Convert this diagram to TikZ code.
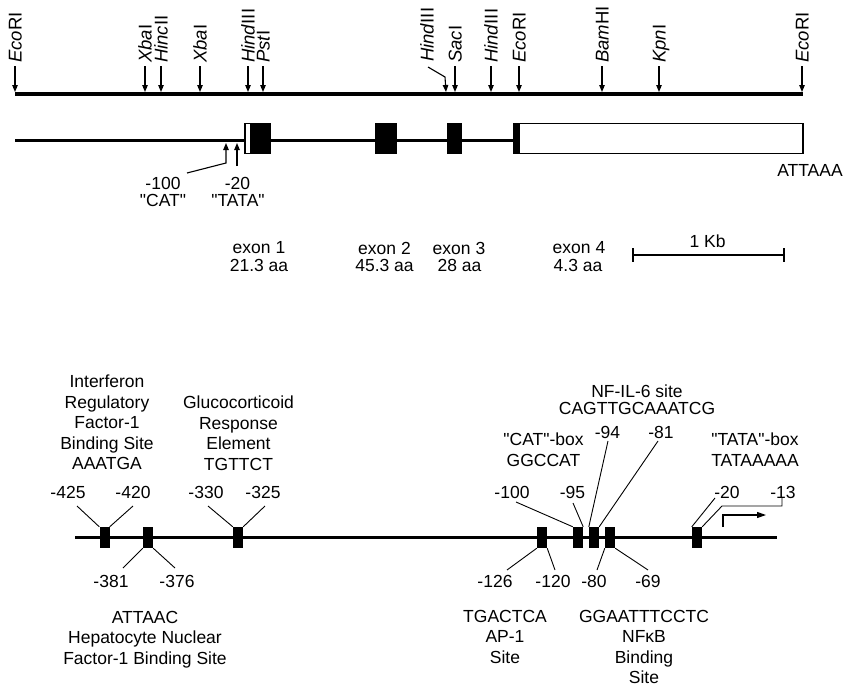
\documentclass[tikz,border=0pt]{standalone}
\usepackage{fontspec}
\setmainfont{Liberation Sans}[Ligatures=TeXOff]
\usetikzlibrary{arrows.meta}
\newcommand\fs{\fontsize{17.5}{20.4}\selectfont}
\newcommand\fsn{\fontsize{17.5}{17}\selectfont}
\newcommand\fsr{\fontsize{18.5}{20}\selectfont}
\begin{document}
\begin{tikzpicture}[x=1pt,y=-1pt,
  lbl/.style={font=\fs, inner sep=0pt},
  site/.style={font=\fsr, inner sep=0pt, rotate=90, anchor=west, text height=13pt, text depth=0pt},
  cut/.style={line width=1.1pt, -{Triangle[width=5.5pt,length=7pt]}},
  ld/.style={line width=0.9pt},
  pbox/.style={fill=black, draw=none, minimum width=10pt, minimum height=21pt, inner sep=0pt},
  blk/.style={align=center, font=\fs, inner sep=0pt, anchor=north},
  utr/.style={draw=black, fill=white, line width=1.2pt}]
\useasboundingbox (0,0) rectangle (843,688);

% ---------- restriction map ----------
\draw[line width=3.5pt] (15,94) -- (803,94);
\foreach \x/\lab/\n in {15/{\textit{Eco}RI}/s1, 145/{\textit{Xba}I}/s2, 161/{\textit{Hinc}II}/s3,
   200/{\textit{Xba}I}/s4, 248/{\textit{Hind}III}/s5, 263/{\textit{Pst}I}/s6,
   455/{\textit{Sac}I}/s8, 491/{\textit{Hind}III}/s9, 519/{\textit{Eco}RI}/s10,
   602/{\textit{Bam}HI}/s11, 659/{\textit{Kpn}I}/s12, 802/{\textit{Eco}RI}/s13}{
  \node[site] (\n) at (\x,63) {\lab};
  \coordinate (\n t) at (\x,92);
  \draw[cut] ([yshift=-3pt]\n.west) -- (\n t);
}
\node[site] (s7) at (427,62) {\textit{Hind}III};
\coordinate (s7t) at (446,92);
\draw[cut] ([xshift=1pt,yshift=-5pt]s7.west) -- (445,77) -- (s7t);

% ---------- gene structure ----------
\draw[line width=3pt] (15,140) -- (513,140);
\node[utr, minimum width=6pt, minimum height=30pt, inner sep=0pt] (u1) at (248,138.5) {};
\fill (251,123) rectangle (271,154);
\fill (375,123) rectangle (397,154);
\fill (447,123) rectangle (462,154);
\fill (513,123) rectangle (519,154);
\node[utr, minimum width=284pt, minimum height=30pt, inner sep=0pt] (u4) at (661,138.5) {};

\coordinate (cat) at (226,143);
\coordinate (tata) at (237,143);
\draw[cut] (187,173) -- (226,163) -- (cat);
\draw[cut] (237,166) -- (tata);
\node[lbl] (m100) at (163,183) {-100};
\node[lbl] (mcat) at (163,200) {"CAT"};
\node[lbl] (m20) at (237.5,183) {-20};
\node[lbl] (mtata) at (238,200) {"TATA"};
\node[lbl] (polya) at (810,170) {ATTAAA};

\node[lbl] (ex1) at (259,248) {exon 1};
\node[lbl] (aa1) at (259,265) {21.3 aa};
\node[lbl] (ex2) at (384.5,248) {exon 2};
\node[lbl] (aa2) at (384.5,265) {45.3 aa};
\node[lbl] (ex3) at (459,248) {exon 3};
\node[lbl] (aa3) at (459.5,265) {28 aa};
\node[lbl] (ex4) at (579,248) {exon 4};
\node[lbl] (aa4) at (578,265) {4.3 aa};

\coordinate (kb1) at (633,255);
\coordinate (kb2) at (784,255);
\draw[line width=2pt] (kb1) -- (kb2);
\draw[line width=2.5pt] (633,248) -- (633,262);
\draw[line width=2.5pt] (784,248) -- (784,262);
\node[lbl] (kb) at (707.5,241.5) {1 Kb};

% ---------- promoter ----------
\draw[line width=3pt] (75,537.5) -- (777,537.5);
\node[pbox] (b1) at (104.5,537.5) {};
\node[pbox] (b2) at (148,537.5) {};
\node[pbox] (b3) at (238,537.5) {};
\node[pbox] (b4) at (542,537.5) {};
\node[pbox] (b5) at (578,537.5) {};
\node[pbox] (b6) at (594,537.5) {};
\node[pbox] (b7) at (610,537.5) {};
\node[pbox] (b8) at (697,537.5) {};

\node[lbl] (p425) at (68,492) {-425};
\node[lbl] (p420) at (133,492) {-420};
\node[lbl] (p330) at (206,492) {-330};
\node[lbl] (p325) at (263,492) {-325};
\node[lbl] (p381) at (111,581) {-381};
\node[lbl] (p376) at (177,581) {-376};
\node[lbl] (p100) at (512,492) {-100};
\node[lbl] (p95) at (572.5,492) {-95};
\node[lbl] (p94) at (607.5,432) {-94};
\node[lbl] (p81) at (661,432) {-81};
\node[lbl] (p20) at (727,492) {-20};
\node[lbl] (p13) at (783,492) {-13};
\node[lbl] (p126) at (495,581) {-126};
\node[lbl] (p120) at (553,581) {-120};
\node[lbl] (p80) at (594,581) {-80};
\node[lbl] (p69) at (648,581) {-69};

\draw[ld] (77,506) -- (b1.north west);
\draw[ld] (133,506) -- (b1.north east);
\draw[ld] (b2.south west) -- (123,568);
\draw[ld] (b2.south east) -- (175,568);
\draw[ld] (208,506) -- (b3.north west);
\draw[ld] (265,506) -- (b3.north east);
\draw[ld] (516,502) -- (b5.north west);
\draw[ld] (573,503) -- (b5.north east);
\draw[ld] (608,441) -- (b6.north west);
\draw[ld] (658,441) -- (b6.north east);
\draw[ld] (b4.south west) -- (507,570);
\draw[ld] (b4.south east) -- (555,570);
\draw[ld] (b7.south west) -- (597,570);
\draw[ld] (b7.south east) -- (648,570);
\draw[ld] (715,498) -- (b8.north west);
\draw[ld] (b8.north east) -- (722,506) -- (782,506) -- (782,498);
\coordinate (tss) at (766,515);
\draw[line width=1.1pt, -{Triangle[width=6pt,length=9pt]}] (723,527) -- (723,515) -- (tss);

\node[blk] (irf) at (107,375) {Interferon\\Regulatory\\Factor-1\\Binding Site\\AAATGA};
\node[blk] (gre) at (238.5,396) {Glucocorticoid\\Response\\Element\\TGTTCT};
\node[blk] (hnf) at (145,611) {ATTAAC\\Hepatocyte Nuclear\\Factor-1 Binding Site};
\node[blk, font=\fsn] (nfil) at (637,385) {NF-IL-6 site\\CAGTTGCAAATCG};
\node[blk] (catb) at (543.5,433) {"CAT"-box\\GGCCAT};
\node[blk] (tatab) at (755,433) {"TATA"-box\\TATAAAAA};
\node[blk] (ap1) at (505,610) {TGACTCA\\AP-1\\Site};
\node[blk] (nfkb) at (644,610) {GGAATTTCCTC\\NFκB\\Binding\\Site};
\end{tikzpicture}
\end{document}
